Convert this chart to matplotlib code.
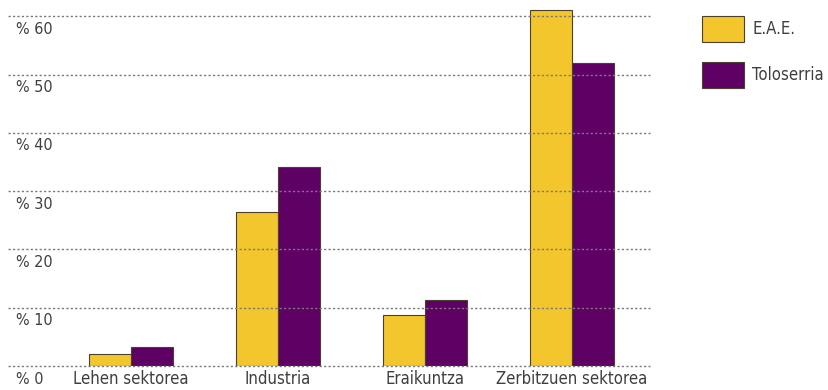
import matplotlib
matplotlib.use("Agg")
import matplotlib.pyplot as plt
import numpy as np
from matplotlib.patches import Patch

# data
sectors = ["Lehen sektorea", "Industria", "Eraikuntza", "Zerbitzuen sektorea"]
eae = [2.1, 26.4, 8.7, 61.1]
toloserria = [3.3, 34.1, 11.3, 52.0]
series_names = ["E.A.E.", "Toloserria"]
yticks = [0, 10, 20, 30, 40, 50, 60]
ytick_labels = ["% 0", "% 10", "% 20", "% 30", "% 40", "% 50", "% 60"]

plt.rcParams["font.family"] = ["DejaVu Sans"]
plt.rcParams["font.stretch"] = "condensed"

YELLOW = "#F2C62C"
PURPLE = "#5E0064"
EDGE = "#4a4030"
TEXT = "#3f3f3f"

fig = plt.figure(figsize=(8.29, 3.9), dpi=100)
ax = fig.add_axes([0.0097, 0.0615, 0.7745, 0.9265])

x = np.arange(len(sectors))
w = 0.286
ax.bar(x - w / 2, eae, w, color=YELLOW, edgecolor=EDGE, linewidth=0.8, zorder=2)
ax.bar(x + w / 2, toloserria, w, color=PURPLE, edgecolor=EDGE, linewidth=0.8, zorder=2)

for v in yticks:
    ax.axhline(v, color="#7a7a7a", linestyle=(0, (1.6, 1.6)), linewidth=1.0,
               zorder=3, clip_on=False)

for v, lab in zip(yticks, ytick_labels):
    ax.annotate(lab, xy=(0.012, v), xycoords=("axes fraction", "data"),
                xytext=(0, -4), textcoords="offset points",
                ha="left", va="top", fontsize=11.5, color=TEXT)

for xi, name in zip(x, sectors):
    ax.annotate(name, xy=(xi, 0), xycoords="data",
                xytext=(0, -3), textcoords="offset points",
                ha="center", va="top", fontsize=12, color=TEXT)

ax.set_xlim(-0.837, 3.531)
ax.set_ylim(0, 62)
ax.set_xticks([])
ax.set_yticks([])
for s in ax.spines.values():
    s.set_visible(False)

handles = [Patch(facecolor=YELLOW, edgecolor=EDGE, linewidth=0.8),
           Patch(facecolor=PURPLE, edgecolor=EDGE, linewidth=0.8)]
fig.legend(handles, series_names, loc="upper left", bbox_to_anchor=(0.847, 0.959),
           frameon=False, fontsize=12, handlelength=2.5, handleheight=2.05,
           labelspacing=1.18, handletextpad=0.5, borderpad=0, borderaxespad=0,
           labelcolor=TEXT)

fig.savefig("out.png", dpi=100)
